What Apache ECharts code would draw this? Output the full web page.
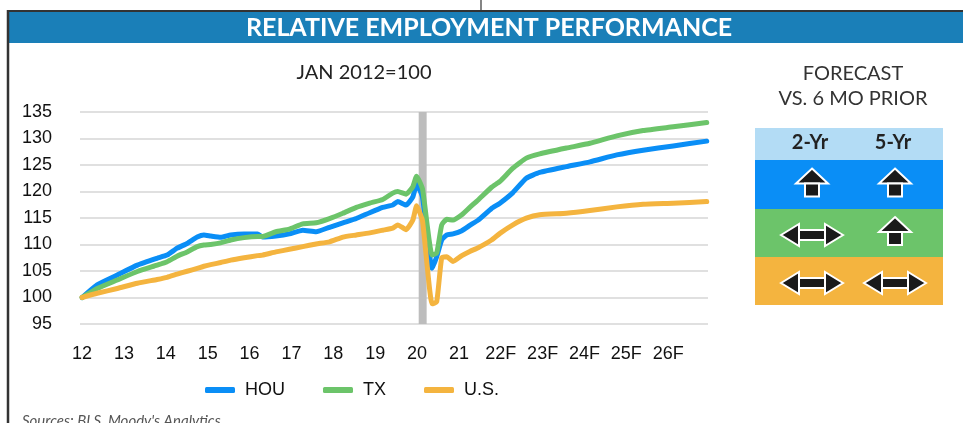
<!DOCTYPE html>
<html>
<head>
<meta charset="utf-8">
<script src="https://cdn.jsdelivr.net/npm/echarts@6/dist/echarts.min.js"></script>
<style>
  html, body { margin: 0; padding: 0; background: #fff; }
  #chart { width: 963px; height: 423px; }
</style>
</head>
<body>
<div id="chart"></div>
<script>
// time in decimal years (Jan 2012 = 2012.0)
const dates = [2012.0, 2012.36, 2012.84, 2013.32, 2013.79, 2014.03, 2014.27, 2014.51, 2014.75, 2014.91,
  2015.07, 2015.31, 2015.55, 2015.87, 2016.19, 2016.31, 2016.63, 2016.95, 2017.27, 2017.59,
  2017.91, 2018.23, 2018.55, 2018.87, 2019.18, 2019.42, 2019.54, 2019.74, 2019.9, 2019.99,
  2020.13, 2020.36, 2020.47, 2020.59, 2020.71, 2020.86, 2021.07, 2021.26, 2021.46, 2021.78,
  2021.98, 2022.29, 2022.61, 2022.93, 2023.57, 2024.13, 2024.77, 2025.4, 2026.12, 2026.92]

const hou = [100, 102.4, 104.25, 106.1, 107.4, 108.0, 109.3, 110.2, 111.4, 111.8,
  111.6, 111.35, 111.8, 112.0, 112.0, 111.4, 111.6, 112.0, 112.7, 112.4,
  113.25, 114.1, 114.9, 116.0, 117.0, 117.45, 118.1, 117.45, 119.0, 121.4,
  119.0, 105.5, 107.7, 110.85, 111.8, 112.0, 112.6, 113.6, 114.6, 116.8,
  117.8, 119.8, 122.5, 123.6, 124.7, 125.6, 126.9, 127.8, 128.6, 129.5]

const tx = [100, 101.7, 103.3, 104.9, 106.1, 106.75, 107.8, 108.6, 109.6, 109.9,
  110.0, 110.3, 110.85, 111.3, 111.5, 111.5, 112.4, 112.9, 113.9, 114.1,
  114.9, 115.9, 117.0, 117.8, 118.5, 119.7, 120.0, 119.5, 120.9, 122.9,
  120.5, 108.0, 108.4, 113.7, 114.75, 114.6, 115.6, 117.0, 118.4, 120.8,
  121.9, 124.4, 126.3, 127.1, 128.2, 129.1, 130.5, 131.5, 132.2, 133.0]

const us = [100, 100.8, 101.7, 102.7, 103.4, 103.8, 104.4, 104.95, 105.5, 105.9,
  106.2, 106.6, 107.05, 107.5, 107.9, 108.0, 108.6, 109.1, 109.6, 110.1,
  110.5, 111.4, 111.8, 112.2, 112.7, 113.1, 113.7, 112.8, 114.6, 117.3,
  114.5, 98.8, 99.2, 107.5, 107.7, 106.8, 107.9, 108.7, 109.4, 110.85,
  112.1, 113.7, 114.96, 115.6, 115.9, 116.4, 117.1, 117.6, 117.8, 118.1]

const labelYears = [2012, 2013, 2014, 2015, 2016, 2017, 2018, 2019, 2020, 2021, 2022, 2023, 2024, 2025, 2026]
const xTickLabels = ['12', '13', '14', '15', '16', '17', '18', '19', '20', '21', '22F', '23F', '24F', '25F', '26F']
const recession = [2020.04, 2020.23]

const seriesNames = ['HOU', 'TX', 'U.S.']
const seriesColors = ['#0a8ef6', '#6cc46a', '#f4b43f']
// forecast vs 6 mo prior: 'up' or 'flat' (double arrow)
const forecastCols = ['2-Yr', '5-Yr']
const forecast2Yr = ['up', 'flat', 'flat']
const forecast5Yr = ['up', 'up', 'flat']

const chart = echarts.init(document.getElementById('chart'))

const pair = arr => dates.map((d, i) => [d, arr[i]])

function txt(x, y, text, font, fill, align) {
  align = align || 'center'
  return {
    type: 'text', x: x, y: y,
    style: { text: text, font: font, fill: fill, align: align, verticalAlign: 'middle',
             textAlign: align, textVerticalAlign: 'middle' }
  }
}

function upArrow(cx, cy) {
  return [
    { type: 'polygon', x: cx, y: cy, shape: { points: [[0, -15], [16, 0], [-16, 0]] },
      style: { fill: '#1a1a1a', stroke: '#fff', lineWidth: 2 }, z: 10 },
    { type: 'rect', x: cx, y: cy, shape: { x: -7, y: 0, width: 14, height: 13 },
      style: { fill: '#1a1a1a', stroke: '#fff', lineWidth: 2 }, z: 10 }
  ]
}

function flatArrow(cx, cy) {
  return [
    { type: 'rect', x: cx, y: cy, shape: { x: -13, y: -5, width: 26, height: 10 },
      style: { fill: '#1a1a1a', stroke: '#fff', lineWidth: 2 }, z: 10 },
    { type: 'polygon', x: cx, y: cy, shape: { points: [[-31, 0], [-13, -11], [-13, 11]] },
      style: { fill: '#1a1a1a', stroke: '#fff', lineWidth: 2 }, z: 10 },
    { type: 'polygon', x: cx, y: cy, shape: { points: [[31, 0], [13, -11], [13, 11]] },
      style: { fill: '#1a1a1a', stroke: '#fff', lineWidth: 2 }, z: 10 }
  ]
}

// side table
const tblX = 755, tblW = 188, colX = [812, 895]
const rowTop = [160, 209, 257], rowH = [49, 48, 48]
const graphics = [
  // frame lines and title band
  { type: 'rect', shape: { x: 9, y: 12, width: 954, height: 31 }, style: { fill: '#1a7fb8' } },
  { type: 'line', shape: { x1: 7, y1: 11, x2: 963, y2: 11 }, style: { stroke: '#333', lineWidth: 2 } },
  { type: 'line', shape: { x1: 8, y1: 10, x2: 8, y2: 423 }, style: { stroke: '#333', lineWidth: 2.5 } },
  { type: 'line', shape: { x1: 481, y1: 0, x2: 481, y2: 11 }, style: { stroke: '#333', lineWidth: 1.2 } },
  txt(489, 28, 'RELATIVE EMPLOYMENT PERFORMANCE', 'bold 25px Lato', '#fff'),
  txt(364, 73, 'JAN 2012=100', '20px Lato', '#222'),
  txt(853, 74, 'FORECAST', '20px Lato', '#333'),
  txt(853, 99, 'VS. 6 MO PRIOR', '20px Lato', '#333'),
  txt(22, 421, 'Sources: BLS, Moody\'s Analytics', 'italic 15px Lato', '#555', 'left'),
  { type: 'rect', shape: { x: tblX, y: 128, width: tblW, height: 32 }, style: { fill: '#b3dcf5' } }
]
forecastCols.forEach((c, j) => graphics.push(txt(colX[j] - 2, 143, c, 'bold 20px Lato', '#222')))
seriesNames.forEach((n, i) => {
  graphics.push({ type: 'rect', shape: { x: tblX, y: rowTop[i], width: tblW, height: rowH[i] },
                  style: { fill: seriesColors[i] } })
  const cy = rowTop[i] + rowH[i] / 2;
  [forecast2Yr[i], forecast5Yr[i]].forEach((dir, j) => {
    const shapes = dir === 'up' ? upArrow(colX[j], cy - 1) : flatArrow(colX[j], cy + 2)
    shapes.forEach(s => graphics.push(s))
  })
})

const option = {
  animation: false,
  backgroundColor: '#fff',
  grid: { left: 80, right: 255, top: 112, bottom: 99 },
  xAxis: {
    type: 'value', min: 2011.95, max: 2026.95,
    axisLine: { show: false }, axisTick: { show: false }, splitLine: { show: false },
    axisLabel: {
      customValues: labelYears,
      formatter: v => xTickLabels[labelYears.indexOf(Math.round(v))],
      fontFamily: 'Liberation Sans', fontSize: 18, color: '#111', margin: 21
    }
  },
  yAxis: {
    type: 'value', min: 95, max: 135, interval: 5,
    axisLine: { show: false }, axisTick: { show: false },
    splitLine: { lineStyle: { color: '#e0e0e0', width: 2 } },
    axisLabel: { fontFamily: 'Liberation Sans', fontSize: 18, color: '#111', margin: 28 }
  },
  legend: {
    left: 200, top: 376, itemWidth: 30, itemHeight: 6, itemGap: 38, icon: 'roundRect',
    textStyle: { fontFamily: 'Liberation Sans', fontSize: 18, color: '#111', padding: [0, 0, 0, 5] },
    data: seriesNames
  },
  series: [hou, tx, us].map((arr, i) => ({
    name: seriesNames[i], type: 'line', data: pair(arr), showSymbol: false, symbol: 'none',
    smooth: 0.15, color: seriesColors[i], z: 3,
    lineStyle: { width: 5, color: seriesColors[i], join: 'round', cap: 'round' },
    markArea: i === 0 ? {
      silent: true, z: 1,
      itemStyle: { color: '#bdbdbd', opacity: 1 },
      data: [[{ xAxis: recession[0] }, { xAxis: recession[1] }]]
    } : undefined
  })),
  graphic: graphics
}
chart.setOption(option)
</script>
</body>
</html>
